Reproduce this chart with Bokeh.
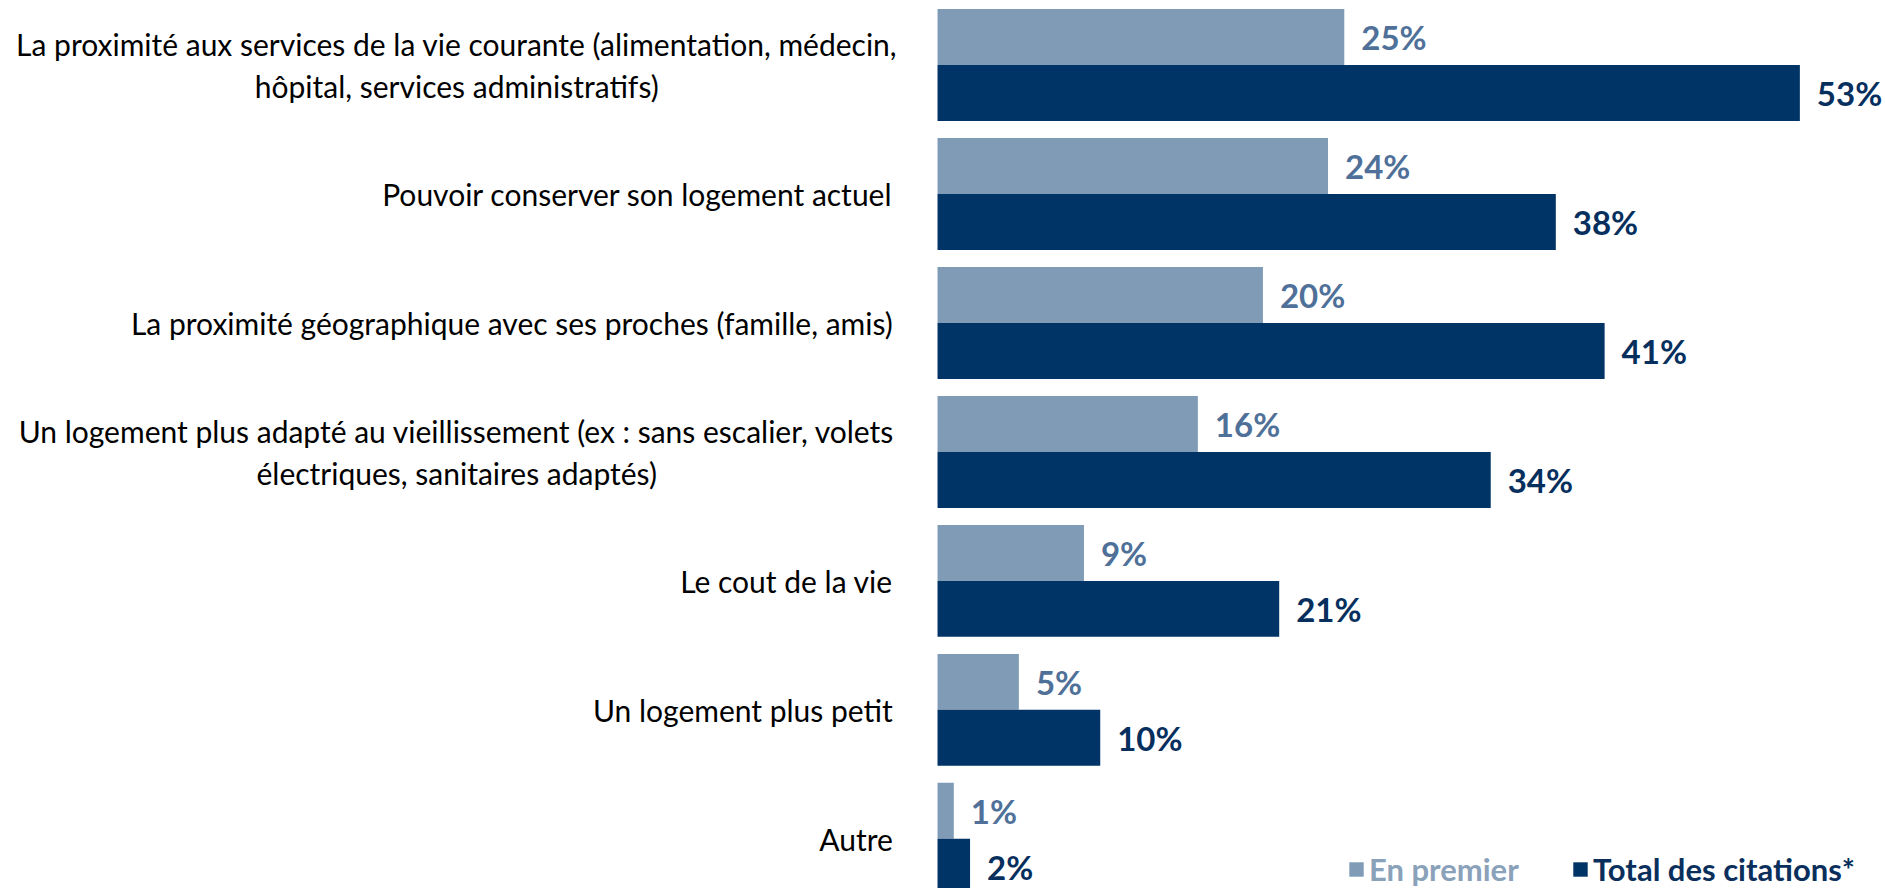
from bokeh.plotting import figure
from bokeh.models import Range1d, ColumnDataSource, Legend, LegendItem
from bokeh.core.properties import value
from bokeh.embed import file_html
from bokeh.resources import INLINE

# ---------------- data ----------------
categories = [
    "La proximité aux services de la vie courante (alimentation, médecin,\nhôpital, services administratifs)",
    "Pouvoir conserver son logement actuel",
    "La proximité géographique avec ses proches (famille, amis)",
    "Un logement plus adapté au vieillissement (ex : sans escalier, volets\nélectriques, sanitaires adaptés)",
    "Le cout de la vie",
    "Un logement plus petit",
    "Autre",
]
en_premier = [25, 24, 20, 16, 9, 5, 1]
total_citations = [53, 38, 41, 34, 21, 10, 2]
series_names = ["En premier", "Total des citations*"]

# ---------------- style ----------------
LIGHT = "#7f9bb6"
DARK = "#003366"
LIGHT_TXT = "#4f7098"
DARK_TXT = "#062f5e"
FONT = "Lato"
BAR_H = 0.434

W, H = 1883, 888
p = figure(width=W, height=H, output_backend="svg", toolbar_location=None,
           x_range=Range1d(-57.59, 58.14), y_range=Range1d(-6.385, 0.500),
           min_border=0, min_border_left=0, min_border_right=0,
           min_border_top=0, min_border_bottom=0)
p.axis.visible = False
p.grid.visible = False
p.outline_line_color = None
p.background_fill_color = "white"
p.border_fill_color = "white"

n = len(categories)
pos = [-i for i in range(n)]
src = ColumnDataSource(dict(
    pos=pos,
    y_light=[y + BAR_H / 2 for y in pos],
    y_dark=[y - BAR_H / 2 for y in pos],
    en_premier=en_premier,
    total=total_citations,
    lab_light=[f"{v}%" for v in en_premier],
    lab_dark=[f"{v}%" for v in total_citations],
))

r1 = p.hbar(y="y_light", left=0, right="en_premier", height=BAR_H, source=src,
            fill_color=LIGHT, line_color=None)
r2 = p.hbar(y="y_dark", left=0, right="total", height=BAR_H, source=src,
            fill_color=DARK, line_color=None)

p.text(x="en_premier", y="y_light", text="lab_light", source=src,
       x_offset=17, text_align="left", text_baseline="middle",
       text_font=value(FONT), text_font_style="bold", text_font_size="33px",
       text_color=LIGHT_TXT)
p.text(x="total", y="y_dark", text="lab_dark", source=src,
       x_offset=17, text_align="left", text_baseline="middle",
       text_font=value(FONT), text_font_style="bold", text_font_size="33px",
       text_color=DARK_TXT)

# category labels
single = [(c, y) for c, y in zip(categories, pos) if "\n" not in c]
multi = [(c, y) for c, y in zip(categories, pos) if "\n" in c]
p.text(x=[-2.75] * len(single), y=[y for _, y in single], text=[c for c, _ in single],
       text_align="right", text_baseline="middle",
       text_font=value(FONT), text_font_size="30px", text_color="black")
p.text(x=[-29.55] * len(multi), y=[y for _, y in multi], text=[c for c, _ in multi],
       text_align="center", text_baseline="middle", text_line_height=1.15,
       text_font=value(FONT), text_font_size="30px", text_color="black")

def make_legend(label, rend, x, color, size):
    return Legend(items=[LegendItem(label=label, renderers=[rend])],
                  location=(x, 0), orientation="horizontal",
                  glyph_width=18, glyph_height=18, label_standoff=4,
                  padding=0, margin=0, spacing=0,
                  border_line_alpha=0, background_fill_alpha=0,
                  label_text_font=FONT, label_text_font_style="bold",
                  label_text_font_size=size, label_text_color=color)

p.add_layout(make_legend(series_names[0], r1, 1347, "#8aa1ba", "31px"))
p.add_layout(make_legend(series_names[1], r2, 1571, "#0a2f5c", "31px"))

open("out.html", "w").write(file_html(p, INLINE))
